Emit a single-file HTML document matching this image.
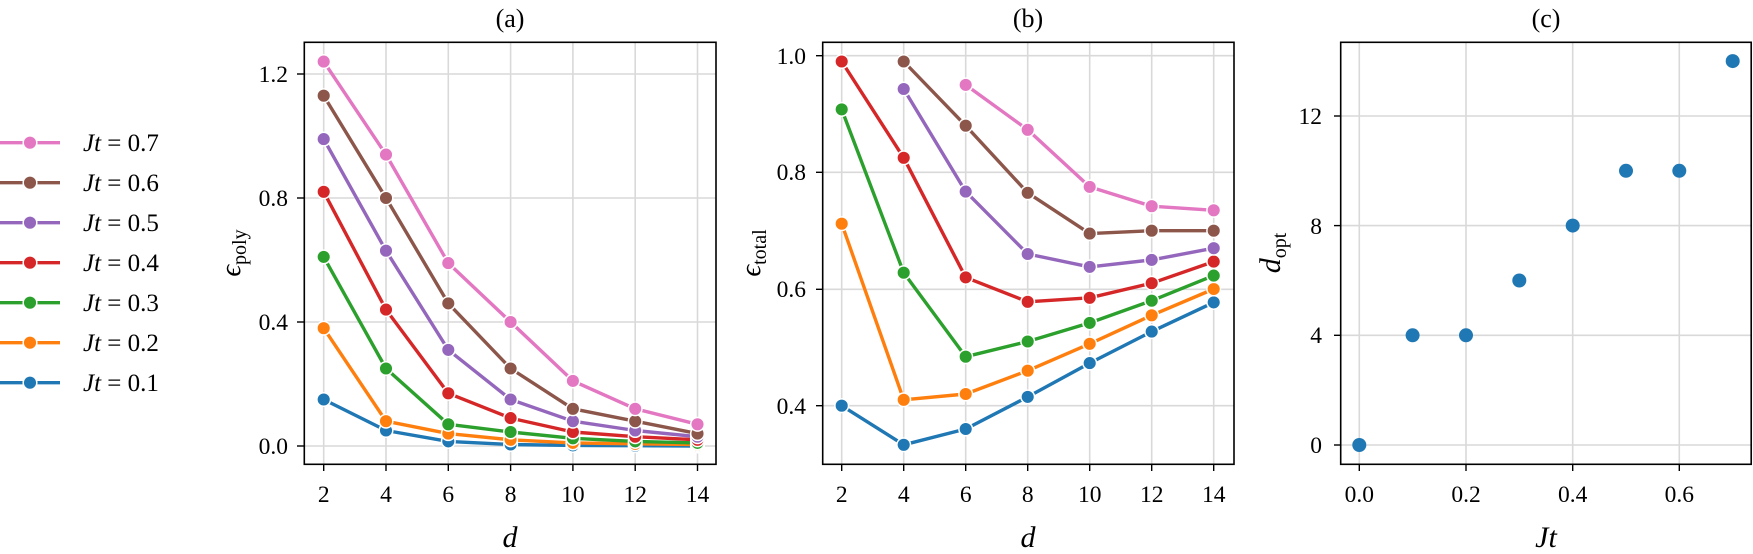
<!DOCTYPE html><html><head><meta charset="utf-8"><style>body{margin:0;background:#fff}svg{display:block}text{font-family:"Liberation Serif",serif;fill:#000}</style></head><body>
<svg width="1753" height="554" viewBox="0 0 1753 554" xmlns="http://www.w3.org/2000/svg">
<defs><style>.g{stroke:#d9d9d9;stroke-width:1.6}.ax{fill:none;stroke:#000;stroke-width:1.6}.t{font-size:23.5px}.l{fill:none;stroke-width:3.4;stroke-linejoin:round}circle{stroke:#fff;stroke-width:1.5}</style></defs>
<!-- Panel a -->
<g class="g"><line x1="323.7" y1="42" x2="323.7" y2="464"/><line x1="386" y1="42" x2="386" y2="464"/><line x1="448.3" y1="42" x2="448.3" y2="464"/><line x1="510.6" y1="42" x2="510.6" y2="464"/><line x1="572.9" y1="42" x2="572.9" y2="464"/><line x1="635.2" y1="42" x2="635.2" y2="464"/><line x1="697.5" y1="42" x2="697.5" y2="464"/>
<line x1="304" y1="446" x2="716" y2="446"/><line x1="304" y1="322" x2="716" y2="322"/><line x1="304" y1="198" x2="716" y2="198"/><line x1="304" y1="74" x2="716" y2="74"/></g>
<g class="l">
<polyline stroke="#1f77b4" points="323.7,399.5 386,430.5 448.3,441.4 510.6,444.5 572.9,445.4 635.2,445.7 697.5,446"/>
<polyline stroke="#ff7f0e" points="323.7,328.2 386,421.2 448.3,433.6 510.6,439.8 572.9,442.9 635.2,443.8 697.5,444.5"/>
<polyline stroke="#2ca02c" points="323.7,256.9 386,368.5 448.3,424.3 510.6,432 572.9,438.3 635.2,441.4 697.5,442.9"/>
<polyline stroke="#d62728" points="323.7,191.8 386,309.6 448.3,393.3 510.6,418.1 572.9,432 635.2,436.7 697.5,439.8"/>
<polyline stroke="#9467bd" points="323.7,139.1 386,250.7 448.3,349.9 510.6,399.5 572.9,421.2 635.2,430.5 697.5,436.7"/>
<polyline stroke="#8c564b" points="323.7,95.7 386,198 448.3,303.4 510.6,368.5 572.9,408.8 635.2,421.2 697.5,433.6"/>
<polyline stroke="#e377c2" points="323.7,61.6 386,154.6 448.3,263.1 510.6,322 572.9,380.9 635.2,408.8 697.5,424.3"/>
</g>
<g fill="#1f77b4"><circle cx="323.7" cy="399.5" r="6.8"/><circle cx="386" cy="430.5" r="6.8"/><circle cx="448.3" cy="441.4" r="6.8"/><circle cx="510.6" cy="444.5" r="6.8"/><circle cx="572.9" cy="445.4" r="6.8"/><circle cx="635.2" cy="445.7" r="6.8"/><circle cx="697.5" cy="446" r="6.8"/></g>
<g fill="#ff7f0e"><circle cx="323.7" cy="328.2" r="6.8"/><circle cx="386" cy="421.2" r="6.8"/><circle cx="448.3" cy="433.6" r="6.8"/><circle cx="510.6" cy="439.8" r="6.8"/><circle cx="572.9" cy="442.9" r="6.8"/><circle cx="635.2" cy="443.8" r="6.8"/><circle cx="697.5" cy="444.5" r="6.8"/></g>
<g fill="#2ca02c"><circle cx="323.7" cy="256.9" r="6.8"/><circle cx="386" cy="368.5" r="6.8"/><circle cx="448.3" cy="424.3" r="6.8"/><circle cx="510.6" cy="432" r="6.8"/><circle cx="572.9" cy="438.3" r="6.8"/><circle cx="635.2" cy="441.4" r="6.8"/><circle cx="697.5" cy="442.9" r="6.8"/></g>
<g fill="#d62728"><circle cx="323.7" cy="191.8" r="6.8"/><circle cx="386" cy="309.6" r="6.8"/><circle cx="448.3" cy="393.3" r="6.8"/><circle cx="510.6" cy="418.1" r="6.8"/><circle cx="572.9" cy="432" r="6.8"/><circle cx="635.2" cy="436.7" r="6.8"/><circle cx="697.5" cy="439.8" r="6.8"/></g>
<g fill="#9467bd"><circle cx="323.7" cy="139.1" r="6.8"/><circle cx="386" cy="250.7" r="6.8"/><circle cx="448.3" cy="349.9" r="6.8"/><circle cx="510.6" cy="399.5" r="6.8"/><circle cx="572.9" cy="421.2" r="6.8"/><circle cx="635.2" cy="430.5" r="6.8"/><circle cx="697.5" cy="436.7" r="6.8"/></g>
<g fill="#8c564b"><circle cx="323.7" cy="95.7" r="6.8"/><circle cx="386" cy="198" r="6.8"/><circle cx="448.3" cy="303.4" r="6.8"/><circle cx="510.6" cy="368.5" r="6.8"/><circle cx="572.9" cy="408.8" r="6.8"/><circle cx="635.2" cy="421.2" r="6.8"/><circle cx="697.5" cy="433.6" r="6.8"/></g>
<g fill="#e377c2"><circle cx="323.7" cy="61.6" r="6.8"/><circle cx="386" cy="154.6" r="6.8"/><circle cx="448.3" cy="263.1" r="6.8"/><circle cx="510.6" cy="322" r="6.8"/><circle cx="572.9" cy="380.9" r="6.8"/><circle cx="635.2" cy="408.8" r="6.8"/><circle cx="697.5" cy="424.3" r="6.8"/></g>
<rect class="ax" x="304.3" y="42.3" width="411.7" height="422"/>
<g stroke="#000" stroke-width="1.4"><line x1="297" y1="446" x2="304" y2="446"/><line x1="297" y1="322" x2="304" y2="322"/><line x1="297" y1="198" x2="304" y2="198"/><line x1="297" y1="74" x2="304" y2="74"/>
<line x1="323.7" y1="464" x2="323.7" y2="471"/><line x1="386" y1="464" x2="386" y2="471"/><line x1="448.3" y1="464" x2="448.3" y2="471"/><line x1="510.6" y1="464" x2="510.6" y2="471"/><line x1="572.9" y1="464" x2="572.9" y2="471"/><line x1="635.2" y1="464" x2="635.2" y2="471"/><line x1="697.5" y1="464" x2="697.5" y2="471"/></g>
<g class="t" text-anchor="end"><text x="288" y="454">0.0</text><text x="288" y="330">0.4</text><text x="288" y="206">0.8</text><text x="288" y="82">1.2</text></g>
<g class="t" text-anchor="middle"><text x="323.7" y="502">2</text><text x="386" y="502">4</text><text x="448.3" y="502">6</text><text x="510.6" y="502">8</text><text x="572.9" y="502">10</text><text x="635.2" y="502">12</text><text x="697.5" y="502">14</text></g>
<text x="510" y="547" font-size="30" font-style="italic" text-anchor="middle">d</text>
<text x="510" y="27" font-size="26" text-anchor="middle">(a)</text>
<text transform="translate(240,253) rotate(-90)" font-size="29" text-anchor="middle"><tspan font-style="italic">ϵ</tspan><tspan font-size="20" dy="6">poly</tspan></text>
<!-- Panel b -->
<g class="g"><line x1="841.7" y1="42" x2="841.7" y2="464"/><line x1="903.7" y1="42" x2="903.7" y2="464"/><line x1="965.7" y1="42" x2="965.7" y2="464"/><line x1="1027.7" y1="42" x2="1027.7" y2="464"/><line x1="1089.7" y1="42" x2="1089.7" y2="464"/><line x1="1151.7" y1="42" x2="1151.7" y2="464"/><line x1="1213.7" y1="42" x2="1213.7" y2="464"/>
<line x1="823" y1="405.7" x2="1234" y2="405.7"/><line x1="823" y1="289.3" x2="1234" y2="289.3"/><line x1="823" y1="172.3" x2="1234" y2="172.3"/><line x1="823" y1="55.7" x2="1234" y2="55.7"/></g>
<g class="l">
<polyline stroke="#1f77b4" points="841.7,405.7 903.7,444.8 965.7,429 1027.7,396.9 1089.7,363.1 1151.7,331.6 1213.7,302.4"/>
<polyline stroke="#ff7f0e" points="841.7,223.7 903.7,399.8 965.7,394 1027.7,370.7 1089.7,343.8 1151.7,315.3 1213.7,289"/>
<polyline stroke="#2ca02c" points="841.7,109.4 903.7,272.7 965.7,356.7 1027.7,341.5 1089.7,322.9 1151.7,300.7 1213.7,275.6"/>
<polyline stroke="#d62728" points="841.7,61.5 903.7,157.8 965.7,277.4 1027.7,301.8 1089.7,297.8 1151.7,283.2 1213.7,261.6"/>
<polyline stroke="#9467bd" points="903.7,89 965.7,191.6 1027.7,254 1089.7,266.9 1151.7,259.9 1213.7,248.2"/>
<polyline stroke="#8c564b" points="903.7,61.5 965.7,125.7 1027.7,192.8 1089.7,233.6 1151.7,230.7 1213.7,230.7"/>
<polyline stroke="#e377c2" points="965.7,84.9 1027.7,129.8 1089.7,186.9 1151.7,206.2 1213.7,210.3"/>
</g>
<g fill="#1f77b4"><circle cx="841.7" cy="405.7" r="6.8"/><circle cx="903.7" cy="444.8" r="6.8"/><circle cx="965.7" cy="429" r="6.8"/><circle cx="1027.7" cy="396.9" r="6.8"/><circle cx="1089.7" cy="363.1" r="6.8"/><circle cx="1151.7" cy="331.6" r="6.8"/><circle cx="1213.7" cy="302.4" r="6.8"/></g>
<g fill="#ff7f0e"><circle cx="841.7" cy="223.7" r="6.8"/><circle cx="903.7" cy="399.8" r="6.8"/><circle cx="965.7" cy="394" r="6.8"/><circle cx="1027.7" cy="370.7" r="6.8"/><circle cx="1089.7" cy="343.8" r="6.8"/><circle cx="1151.7" cy="315.3" r="6.8"/><circle cx="1213.7" cy="289" r="6.8"/></g>
<g fill="#2ca02c"><circle cx="841.7" cy="109.4" r="6.8"/><circle cx="903.7" cy="272.7" r="6.8"/><circle cx="965.7" cy="356.7" r="6.8"/><circle cx="1027.7" cy="341.5" r="6.8"/><circle cx="1089.7" cy="322.9" r="6.8"/><circle cx="1151.7" cy="300.7" r="6.8"/><circle cx="1213.7" cy="275.6" r="6.8"/></g>
<g fill="#d62728"><circle cx="841.7" cy="61.5" r="6.8"/><circle cx="903.7" cy="157.8" r="6.8"/><circle cx="965.7" cy="277.4" r="6.8"/><circle cx="1027.7" cy="301.8" r="6.8"/><circle cx="1089.7" cy="297.8" r="6.8"/><circle cx="1151.7" cy="283.2" r="6.8"/><circle cx="1213.7" cy="261.6" r="6.8"/></g>
<g fill="#9467bd"><circle cx="903.7" cy="89" r="6.8"/><circle cx="965.7" cy="191.6" r="6.8"/><circle cx="1027.7" cy="254" r="6.8"/><circle cx="1089.7" cy="266.9" r="6.8"/><circle cx="1151.7" cy="259.9" r="6.8"/><circle cx="1213.7" cy="248.2" r="6.8"/></g>
<g fill="#8c564b"><circle cx="903.7" cy="61.5" r="6.8"/><circle cx="965.7" cy="125.7" r="6.8"/><circle cx="1027.7" cy="192.8" r="6.8"/><circle cx="1089.7" cy="233.6" r="6.8"/><circle cx="1151.7" cy="230.7" r="6.8"/><circle cx="1213.7" cy="230.7" r="6.8"/></g>
<g fill="#e377c2"><circle cx="965.7" cy="84.9" r="6.8"/><circle cx="1027.7" cy="129.8" r="6.8"/><circle cx="1089.7" cy="186.9" r="6.8"/><circle cx="1151.7" cy="206.2" r="6.8"/><circle cx="1213.7" cy="210.3" r="6.8"/></g>
<rect class="ax" x="822.7" y="42.3" width="411.3" height="422"/>
<g stroke="#000" stroke-width="1.4"><line x1="816" y1="405.7" x2="823" y2="405.7"/><line x1="816" y1="289.3" x2="823" y2="289.3"/><line x1="816" y1="172.3" x2="823" y2="172.3"/><line x1="816" y1="55.7" x2="823" y2="55.7"/>
<line x1="841.7" y1="464" x2="841.7" y2="471"/><line x1="903.7" y1="464" x2="903.7" y2="471"/><line x1="965.7" y1="464" x2="965.7" y2="471"/><line x1="1027.7" y1="464" x2="1027.7" y2="471"/><line x1="1089.7" y1="464" x2="1089.7" y2="471"/><line x1="1151.7" y1="464" x2="1151.7" y2="471"/><line x1="1213.7" y1="464" x2="1213.7" y2="471"/></g>
<g class="t" text-anchor="end"><text x="806" y="414">0.4</text><text x="806" y="297">0.6</text><text x="806" y="180">0.8</text><text x="806" y="64">1.0</text></g>
<g class="t" text-anchor="middle"><text x="841.7" y="502">2</text><text x="903.7" y="502">4</text><text x="965.7" y="502">6</text><text x="1027.7" y="502">8</text><text x="1089.7" y="502">10</text><text x="1151.7" y="502">12</text><text x="1213.7" y="502">14</text></g>
<text x="1028" y="547" font-size="30" font-style="italic" text-anchor="middle">d</text>
<text x="1028" y="27" font-size="26" text-anchor="middle">(b)</text>
<text transform="translate(760,253) rotate(-90)" font-size="29" text-anchor="middle"><tspan font-style="italic">ϵ</tspan><tspan font-size="20" dy="6">total</tspan></text>
<!-- Panel c -->
<g class="g"><line x1="1359.3" y1="42" x2="1359.3" y2="464"/><line x1="1466" y1="42" x2="1466" y2="464"/><line x1="1572.7" y1="42" x2="1572.7" y2="464"/><line x1="1679.3" y1="42" x2="1679.3" y2="464"/>
<line x1="1341" y1="445" x2="1751" y2="445"/><line x1="1341" y1="335.3" x2="1751" y2="335.3"/><line x1="1341" y1="225.6" x2="1751" y2="225.6"/><line x1="1341" y1="116" x2="1751" y2="116"/></g>
<g fill="#1f77b4"><circle cx="1359.3" cy="445" r="7" style="stroke:none"/><circle cx="1412.6" cy="335.3" r="7" style="stroke:none"/><circle cx="1466" cy="335.3" r="7" style="stroke:none"/><circle cx="1519.3" cy="280.5" r="7" style="stroke:none"/><circle cx="1572.7" cy="225.6" r="7" style="stroke:none"/><circle cx="1626" cy="170.8" r="7" style="stroke:none"/><circle cx="1679.3" cy="170.8" r="7" style="stroke:none"/><circle cx="1732.7" cy="61.1" r="7" style="stroke:none"/></g>
<rect class="ax" x="1340.7" y="42.3" width="410.5" height="422"/>
<g stroke="#000" stroke-width="1.4"><line x1="1334" y1="445" x2="1341" y2="445"/><line x1="1334" y1="335.3" x2="1341" y2="335.3"/><line x1="1334" y1="225.6" x2="1341" y2="225.6"/><line x1="1334" y1="116" x2="1341" y2="116"/>
<line x1="1359.3" y1="464" x2="1359.3" y2="471"/><line x1="1466" y1="464" x2="1466" y2="471"/><line x1="1572.7" y1="464" x2="1572.7" y2="471"/><line x1="1679.3" y1="464" x2="1679.3" y2="471"/></g>
<g class="t" text-anchor="end"><text x="1322" y="453">0</text><text x="1322" y="343">4</text><text x="1322" y="234">8</text><text x="1322" y="124">12</text></g>
<g class="t" text-anchor="middle"><text x="1359.3" y="502">0.0</text><text x="1466" y="502">0.2</text><text x="1572.7" y="502">0.4</text><text x="1679.3" y="502">0.6</text></g>
<text x="1546" y="547" font-size="30" font-style="italic" text-anchor="middle">Jt</text>
<text x="1546" y="27" font-size="26" text-anchor="middle">(c)</text>
<text transform="translate(1280,253) rotate(-90)" font-size="30" text-anchor="middle"><tspan font-style="italic">d</tspan><tspan font-size="20" dy="6">opt</tspan></text>
<!-- Legend -->
<g stroke-width="3.4">
<line x1="0" y1="142.7" x2="60" y2="142.7" stroke="#e377c2"/><line x1="0" y1="182.7" x2="60" y2="182.7" stroke="#8c564b"/><line x1="0" y1="222.7" x2="60" y2="222.7" stroke="#9467bd"/><line x1="0" y1="262.7" x2="60" y2="262.7" stroke="#d62728"/><line x1="0" y1="302.7" x2="60" y2="302.7" stroke="#2ca02c"/><line x1="0" y1="342.7" x2="60" y2="342.7" stroke="#ff7f0e"/><line x1="0" y1="382.7" x2="60" y2="382.7" stroke="#1f77b4"/></g>
<circle cx="30" cy="142.7" r="6.8" fill="#e377c2"/><circle cx="30" cy="182.7" r="6.8" fill="#8c564b"/><circle cx="30" cy="222.7" r="6.8" fill="#9467bd"/><circle cx="30" cy="262.7" r="6.8" fill="#d62728"/><circle cx="30" cy="302.7" r="6.8" fill="#2ca02c"/><circle cx="30" cy="342.7" r="6.8" fill="#ff7f0e"/><circle cx="30" cy="382.7" r="6.8" fill="#1f77b4"/>
<g font-size="25"><text x="83" y="151"><tspan font-style="italic">Jt</tspan> = 0.7</text><text x="83" y="191"><tspan font-style="italic">Jt</tspan> = 0.6</text><text x="83" y="231"><tspan font-style="italic">Jt</tspan> = 0.5</text><text x="83" y="271"><tspan font-style="italic">Jt</tspan> = 0.4</text><text x="83" y="311"><tspan font-style="italic">Jt</tspan> = 0.3</text><text x="83" y="351"><tspan font-style="italic">Jt</tspan> = 0.2</text><text x="83" y="391"><tspan font-style="italic">Jt</tspan> = 0.1</text></g>
</svg></body></html>
